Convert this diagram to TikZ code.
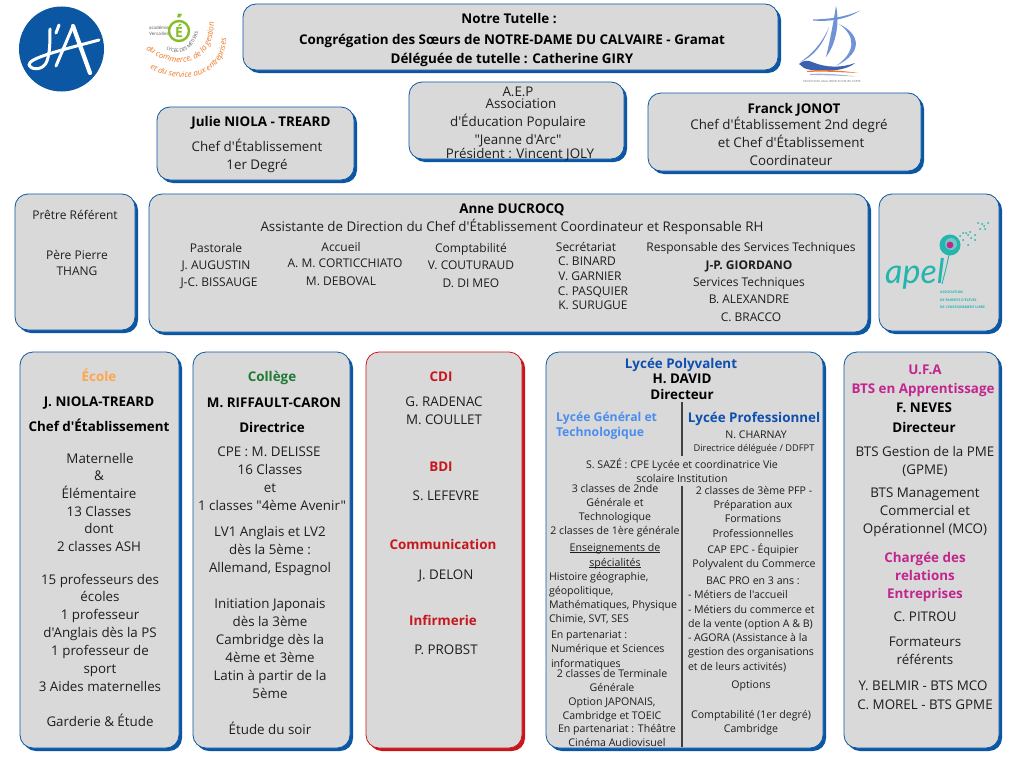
\documentclass[tikz,border=0pt]{standalone}
\usepackage{fontspec}
\setmainfont{Open Sans}
\newfontfamily\opn{Open Sans}
\newfontfamily\lato{Lato}
\usetikzlibrary{decorations.text}
\definecolor{boxfill}{HTML}{D9D9D9}
\definecolor{bblue}{HTML}{0B57A4}
\definecolor{bred}{HTML}{C8161D}
\definecolor{ecole}{HTML}{FFA64D}
\definecolor{college}{HTML}{1F7A33}
\definecolor{mag}{HTML}{C2258E}
\definecolor{lblue}{HTML}{4A8CF0}
\definecolor{pblue}{HTML}{0F4FB0}
\definecolor{teal2}{HTML}{23B5AE}
\definecolor{orangeL}{HTML}{F07A28}
\definecolor{greenE}{HTML}{86BC25}
\definecolor{txtc}{HTML}{1E1E1E}
\definecolor{sailb}{HTML}{6F93D6}
\definecolor{hullb}{HTML}{3A62AE}
\newcounter{tn}
\tikzset{
  x=1pt,y=-1pt,
  txt/.style={inner sep=0pt,outer sep=0pt,anchor=mid,text=txtc,font=\opn\fontsize{13.35}{15}\selectfont},
  lft/.style={anchor=mid west},
  hd/.style={font=\opn\fontsize{13.4}{15}\bfseries\selectfont,text=black},
  hds/.style={font=\opn\fontsize{12.2}{14}\bfseries\selectfont},
  sm/.style={font=\opn\fontsize{12}{14}\selectfont},
  xs/.style={font=\opn\fontsize{10.6}{13}\selectfont},
  face/.style={fill=boxfill,rounded corners=13pt,line width=.8pt},
}
\newcommand{\tl}[4][]{\stepcounter{tn}\node[txt,#1] (t\arabic{tn}) at (#2,#3+2.7) {#4};}
\newcommand{\ulx}[1]{\setbox0=\hbox{#1}\rlap{\rule[-1.6pt]{\wd0}{.55pt}}\box0 }
\newcommand{\bx}[6]{%
  \fill[#6,rounded corners=13pt] (#2+3,#3+3) rectangle (#4+3,#5+3);
  \node[inner sep=0pt,outer sep=0pt] (#1) at (#2,#3) {};
  \path[face,draw=#6] (#2,#3) rectangle (#4,#5);}
\begin{document}
\begin{tikzpicture}
\useasboundingbox[fill=white] (0,0) rectangle (1024,768);
% boxes
\bx{tut}{243}{4}{778}{70}{bblue}
\bx{jul}{157}{107}{354}{180}{bblue}
\bx{aep}{409}{82}{624}{159}{bblue}
\bx{fra}{648}{93}{921}{171}{bblue}
\bx{pre}{15}{194}{135}{330}{bblue}
\bx{ann}{149}{194}{868}{332}{bblue}
\bx{ape}{879}{194}{999}{331}{bblue}
\bx{eco}{20}{352}{179}{748}{bblue}
\bx{col}{193}{352}{350}{748}{bblue}
\bx{cdi}{366}{352}{522}{748}{bred}
\bx{lyc}{546}{352}{823}{748}{bblue}
\bx{ufa}{844}{352}{999}{748}{bblue}
% top
\tl[hd]{509}{18}{Notre Tutelle :}
\tl[hd]{512}{39}{Congrégation des Sœurs de NOTRE-DAME DU CALVAIRE - Gramat}
\tl[hd]{512}{58}{Déléguée de tutelle : Catherine GIRY}
\tl[hd]{261}{121}{Julie NIOLA - TREARD}
\tl{257}{146}{Chef d'Établissement}
\tl{257}{164}{1er Degré}
\tl{518}{91}{A.E.P}
\tl{521}{103}{Association}
\tl{518}{121}{d'Éducation Populaire}
\tl{518}{139}{"Jeanne d'Arc"}
\tl{520}{153}{Président : Vincent JOLY}
\tl[hd]{794}{108}{Franck JONOT}
\tl{789}{124}{Chef d'Établissement 2nd degré}
\tl{791}{142}{et Chef d'Établissement}
\tl{791}{160}{Coordinateur}
% middle
\tl[sm]{75}{214}{Prêtre Référent}
\tl[sm]{77}{254}{Père Pierre}
\tl[sm]{77}{270}{THANG}
\tl[hd]{512}{208}{Anne DUCROCQ}
\tl{512}{226}{Assistante de Direction du Chef d'Établissement Coordinateur et Responsable RH}
\tl[sm]{216}{247}{Pastorale}
\tl[sm]{216}{264}{J. AUGUSTIN}
\tl[sm]{219}{281}{J-C. BISSAUGE}
\tl[sm]{341}{246}{Accueil}
\tl[sm]{345}{262}{A. M. CORTICCHIATO}
\tl[sm]{341}{280}{M. DEBOVAL}
\tl[sm]{471}{247}{Comptabilité}
\tl[sm]{471}{264}{V. COUTURAUD}
\tl[sm]{471}{282}{D. DI MEO}
\tl[sm]{586}{246}{Secrétariat}
\tl[sm]{587}{260}{C. BINARD}
\tl[sm]{590}{275}{V. GARNIER}
\tl[sm]{593}{290}{C. PASQUIER}
\tl[sm]{593}{304}{K. SURUGUE}
\tl[sm]{751}{246}{Responsable des Services Techniques}
\tl[font=\opn\fontsize{12}{14}\bfseries\selectfont]{749}{264}{J-P. GIORDANO}
\tl[sm]{749}{281}{Services Techniques}
\tl[sm]{749}{298}{B. ALEXANDRE}
\tl[sm]{751}{316}{C. BRACCO}
% Ecole
\tl[hd,text=ecole]{99}{376}{École}
\tl[hd]{99}{401}{J. NIOLA-TREARD}
\tl[hd]{99}{426}{Chef d'Établissement}
\tl{100}{458}{Maternelle}
\tl{99}{475}{\&}
\tl{99}{493}{Élémentaire}
\tl{99}{511}{13 Classes}
\tl{99}{528}{dont}
\tl{99}{546}{2 classes ASH}
\tl{100}{579}{15 professeurs des}
\tl{100}{596}{écoles}
\tl{100}{614}{1 professeur}
\tl{100}{632}{d'Anglais dès la PS}
\tl{100}{650}{1 professeur de}
\tl{100}{668}{sport}
\tl{100}{686}{3 Aides maternelles}
\tl{100}{721}{Garderie \& Étude}
% College
\tl[hd,text=college]{272}{376}{Collège}
\tl[hd]{274}{402}{M. RIFFAULT-CARON}
\tl[hd]{272}{427}{Directrice}
\tl{269}{451}{CPE : M. DELISSE}
\tl{270}{469}{16 Classes}
\tl{270}{487}{et}
\tl{272}{505}{1 classes "4ème Avenir"}
\tl{270}{531}{LV1 Anglais et LV2}
\tl{270}{549}{dès la 5ème :}
\tl{270}{567}{Allemand, Espagnol}
\tl{270}{603}{Initiation Japonais}
\tl{270}{621}{dès la 3ème}
\tl{270}{639}{Cambridge dès la}
\tl{270}{657}{4ème et 3ème}
\tl{270}{675}{Latin à partir de la}
\tl{270}{693}{5ème}
\tl{270}{729}{Étude du soir}
% CDI
\tl[hd,text=bred]{441}{376}{CDI}
\tl{444}{401}{G. RADENAC}
\tl{444}{419}{M. COULLET}
\tl[hd,text=bred]{441}{466}{BDI}
\tl{446}{495}{S. LEFEVRE}
\tl[hd,text=bred]{443}{544}{Communication}
\tl{446}{574}{J. DELON}
\tl[hd,text=bred]{443}{620}{Infirmerie}
\tl{446}{649}{P. PROBST}
% Lycee
\tl[hd,text=pblue]{681}{363}{Lycée Polyvalent}
\tl[hd]{682}{378}{H. DAVID}
\tl[hd]{682}{394}{Directeur}
\tl[hds,lft,text=lblue]{556}{416}{Lycée Général et}
\tl[hds,lft,text=lblue]{556}{431}{Technologique}
\tl[hd,text=pblue]{754}{417}{Lycée Professionnel}
\tl[xs]{756}{433}{N. CHARNAY}
\tl[font=\opn\fontsize{9.3}{11}\selectfont]{754}{446}{Directrice déléguée / DDFPT}
\tl[xs]{682}{463}{S. SAZÉ : CPE Lycée et coordinatrice Vie}
\tl[xs]{682}{477}{scolaire Institution}
\tl[xs]{615}{487}{3 classes de 2nde}
\tl[xs]{615}{501}{Générale et}
\tl[xs]{615}{515}{Technologique}
\tl[xs]{615}{529}{2 classes de 1ère générale}
\tl[xs]{615}{546}{\ulx{Enseignements de}}
\tl[xs]{615}{561}{\ulx{spécialités}}
\tl[xs,lft]{549}{575}{Histoire géographie,}
\tl[xs,lft]{549}{589}{géopolitique,}
\tl[xs,lft]{549}{603}{Mathématiques, Physique}
\tl[xs,lft]{549}{617}{Chimie, SVT, SES}
\tl[xs,lft]{551}{633}{En partenariat :}
\tl[xs,lft]{551}{647}{Numérique et Sciences}
\tl[xs,lft]{551}{662}{informatiques}
\tl[xs]{612}{672}{2 classes de Terminale}
\tl[xs]{612}{686}{Générale}
\tl[xs]{612}{700}{Option JAPONAIS,}
\tl[xs]{612}{714}{Cambridge et TOEIC}
\tl[xs]{617}{727}{En partenariat : Théâtre}
\tl[xs]{617}{741}{Cinéma Audiovisuel}
\tl[xs]{754}{489}{2 classes de 3ème PFP -}
\tl[xs]{753}{503}{Préparation aux}
\tl[xs]{753}{517}{Formations}
\tl[xs]{753}{532}{Professionnelles}
\tl[xs]{753}{548}{CAP EPC - Équipier}
\tl[xs]{754}{562}{Polyvalent du Commerce}
\tl[xs]{753}{579}{BAC PRO en 3 ans :}
\tl[xs,lft]{688}{593}{- Métiers de l'accueil}
\tl[xs,lft]{688}{608}{- Métiers du commerce et}
\tl[xs,lft]{688}{622}{de la vente (option A \& B)}
\tl[xs,lft]{688}{636}{- AGORA (Assistance à la}
\tl[xs,lft]{688}{650}{gestion des organisations}
\tl[xs,lft]{688}{665}{et de leurs activités)}
\tl[xs]{751}{683}{Options}
\tl[xs]{751}{713}{Comptabilité (1er degré)}
\tl[xs]{751}{727}{Cambridge}
\coordinate (v1a) at (682,402);
\coordinate (v1b) at (682,456);
\coordinate (v2a) at (682,486);
\coordinate (v2b) at (682,747);
\draw[line width=1.1pt,black!75] (v1a) -- (v1b);
\draw[line width=1.1pt,black!75] (v2a) -- (v2b);
% UFA
\tl[hd,text=mag]{925}{369}{U.F.A}
\tl[hd,text=mag]{923}{388}{BTS en Apprentissage}
\tl[hd]{924}{407}{F. NEVES}
\tl[hd]{924}{427}{Directeur}
\tl{925}{451}{BTS Gestion de la PME}
\tl{925}{469}{(GPME)}
\tl{925}{492}{BTS Management}
\tl{925}{510}{Commercial et}
\tl{925}{528}{Opérationnel (MCO)}
\tl[hd,text=mag]{925}{557}{Chargée des}
\tl[hd,text=mag]{925}{575}{relations}
\tl[hd,text=mag]{925}{593}{Entreprises}
\tl{925}{616}{C. PITROU}
\tl{925}{641}{Formateurs}
\tl{925}{659}{référents}
\tl{923}{685}{Y. BELMIR - BTS MCO}
\tl{925}{704}{C. MOREL - BTS GPME}
% J'A logo
\fill[bblue] (61.5,49) circle (42.5);
\begin{scope}[white,line cap=round,line join=round,line width=3pt]
\draw (50,29) .. controls (50,42) and (50,52) .. (47,61) .. controls (44,70) and (32,71) .. (29,65) .. controls (28,58) and (62,50) .. (99,40);
\draw (73,26) -- (56,66);
\draw[line width=4.2pt] (73,26) -- (90,73);
\draw[line width=3pt] (59,25) -- (56,33);
\end{scope}
% LP logo
\draw[greenE,line width=2.4pt] (179,31) circle (10);
\fill[greenE] (178,13.5) -- (182,14) -- (180,17.5) -- (177,17.5) -- cycle;
\node[inner sep=0pt,text=greenE,font=\opn\fontsize{14}{14}\bfseries\selectfont] (lpE) at (179,31) {É};
\node[inner sep=0pt,text=black!65,align=center,font=\opn\fontsize{4.4}{6}\selectfont] (lpA) at (159,31) {académie\\Versailles};
\path[postaction={decorate},decoration={text along path,text align=center,text={|\opn\fontsize{4.6}{6}\selectfont\color{black!70}|LYCÉE DES MÉTIERS}}]
  (160,44) .. controls (168,57) and (196,58) .. (200,24);
\path[postaction={decorate},decoration={text along path,text align=center,text={|\opn\fontsize{8}{9}\itshape\selectfont\color{orangeL}|du commerce, de la gestion}}]
  (146,49) .. controls (172,71) and (214,68) .. (214,22);
\path[postaction={decorate},decoration={text along path,text align=center,text={|\opn\fontsize{8}{9}\itshape\selectfont\color{orangeL}|et du service aux entreprises}}]
  (146,66) .. controls (178,88) and (230,78) .. (226,34);
% Boat logo
\fill[sailb] (813,19.5) .. controls (830,19) and (846,17) .. (860,10.5) .. controls (848,19) and (830,22) .. (813,20.5) -- cycle;
\fill[sailb] (836,6) .. controls (838,14) and (838,24) .. (836,34) .. controls (834,44) and (830,52) .. (826,57) .. controls (829,45) and (833,25) .. (836,6) -- cycle;
\fill[sailb] (839,24) .. controls (860,34) and (864,52) .. (836,66) .. controls (856,52) and (856,36) .. (839,24) -- cycle;
\fill[sailb] (829,27) .. controls (822,44) and (810,56) .. (800,62) .. controls (812,58) and (824,44) .. (829,27) -- cycle;
\fill[hullb] (799,64) .. controls (803,60) and (808,60) .. (812,62) .. controls (826,68) and (842,68) .. (855,63) .. controls (845,72) and (816,73) .. (804,68) -- cycle;
\fill[orangeL] (807,71) .. controls (825,69) and (845,71) .. (858,73) .. controls (845,72.5) and (825,71) .. (807,72) -- cycle;
\fill[sailb!70] (810,74) .. controls (825,73) and (845,75) .. (856,76.5) .. controls (845,76) and (825,75) .. (810,75) -- cycle;
\node[inner sep=0pt,text=black!55,font=\opn\fontsize{2.8}{3}\selectfont] (boatT) at (832,81) {ÉDUCATION LASALLIENNE EN MILIEU FORTE};
% Apel logo
\draw[teal2,line width=.9pt] (950,248) .. controls (948,262) and (945,272) .. (942,284);
\fill[teal2] (950,245) circle (10.5);
\fill[teal2!55!boxfill] (951,244) circle (6);
\fill[mag] (950,245) circle (3.4);
\foreach \a/\b in {960/236,963/233,966/233,968/235,970/232,975/235,980/229,984/226,978/223,988/223,971/238,968/245,963/240,975/240,982/224,985/229}{\fill[teal2] (\a,\b) circle (1);}
\node[inner sep=0pt,text=teal2,anchor=base west,font=\fontsize{34}{34}\lato\itshape\selectfont] (apelT) at (885,283) {apel};
\node[inner sep=0pt,anchor=north west,text=teal2,align=left,font=\opn\fontsize{3.4}{7.4}\bfseries\selectfont] (apelS) at (940,291) {ASSOCIATION\\DE PARENTS D'ÉLÈVES\\DE L'ENSEIGNEMENT LIBRE};
\end{tikzpicture}
\end{document}
